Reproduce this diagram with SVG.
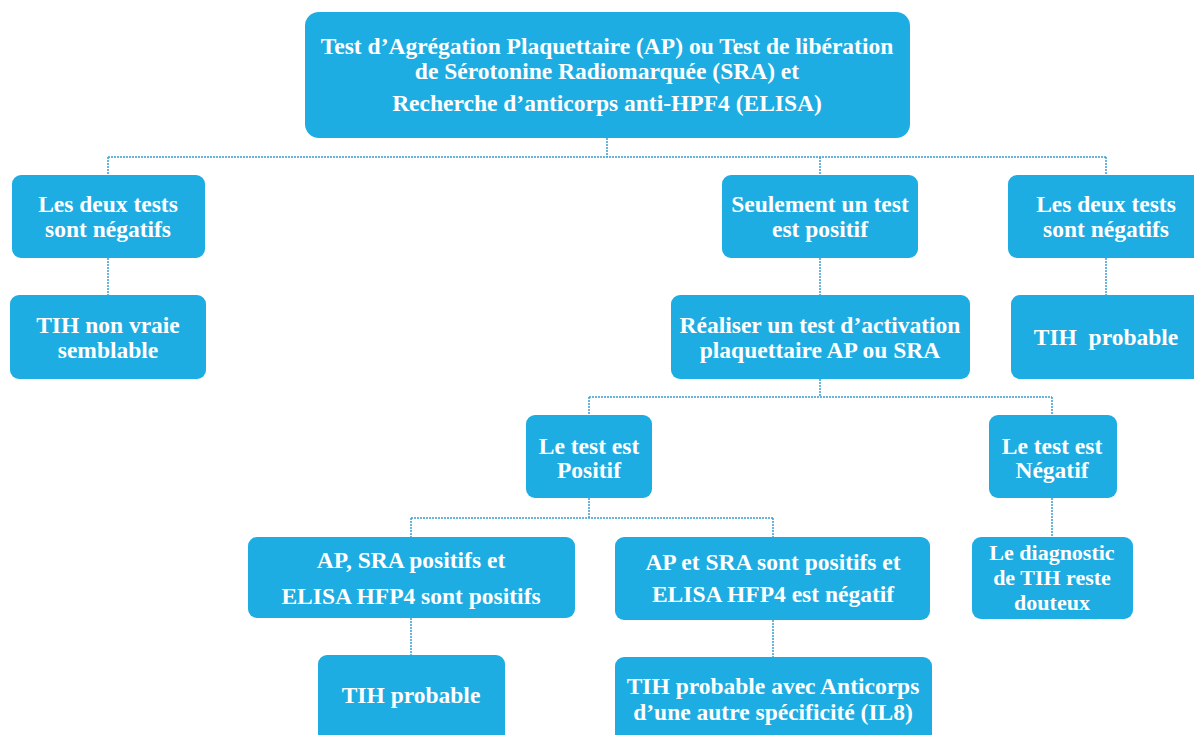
<svg xmlns="http://www.w3.org/2000/svg" width="1194" height="735" viewBox="0 0 1194 735">
<style>
.box{fill:#1DADE3;}
.t{font-family:"Liberation Serif","Times New Roman",serif;font-weight:bold;font-size:23.5px;fill:#ffffff;text-anchor:middle;}
.s{font-size:22px;}
.c{fill:none;stroke:#3A9FD0;stroke-width:1.5;stroke-dasharray:2 1;}
</style>
<rect width="1194" height="735" fill="#ffffff"/>
<g id="connectors">
<path class="c" d="M607 138V157M108 157H1106M108 157V175M820 157V175M1106 157V175"/>
<path class="c" d="M108 258V295M1106 258V295M820 258V295"/>
<path class="c" d="M820 379V397M589 397H1052M589 397V415M1052 397V415"/>
<path class="c" d="M589 498V518M411 518H773M411 518V537M773 518V537M1052 498V537"/>
<path class="c" d="M411 618V655M773 620V657"/>
</g>
<g id="root"><rect class="box" x="305" y="12" width="605" height="126" rx="14"/>
<text class="t" x="607" y="54">Test d’Agrégation Plaquettaire (AP) ou Test de libération</text>
<text class="t" x="607" y="79">de Sérotonine Radiomarquée (SRA) et</text>
<text class="t" x="607" y="111">Recherche d’anticorps anti-HPF4 (ELISA)</text></g>
<g id="n1"><rect class="box" x="12" y="175" width="193" height="83" rx="9"/>
<text class="t" x="108" y="212">Les deux tests</text><text class="t" x="108" y="237">sont négatifs</text></g>
<g id="n2"><rect class="box" x="722" y="175" width="196" height="83" rx="9"/>
<text class="t" x="820" y="212">Seulement un test</text><text class="t" x="820" y="237">est positif</text></g>
<g id="n3"><rect class="box" x="1008" y="175" width="200" height="83" rx="9"/>
<text class="t" x="1106" y="212">Les deux tests</text><text class="t" x="1106" y="237">sont négatifs</text></g>
<g id="n4"><rect class="box" x="10" y="295" width="196" height="84" rx="9"/>
<text class="t" x="108" y="333">TIH non vraie</text><text class="t" x="108" y="358">semblable</text></g>
<g id="n5"><rect class="box" x="671" y="295" width="299" height="84" rx="9"/>
<text class="t" x="820" y="333">Réaliser un test d’activation</text><text class="t" x="820" y="358">plaquettaire AP ou SRA</text></g>
<g id="n6"><rect class="box" x="1011" y="295" width="200" height="84" rx="9"/>
<text class="t" x="1106" y="345" xml:space="preserve">TIH  probable</text></g>
<g id="n7"><rect class="box" x="526" y="415" width="126" height="83" rx="9"/>
<text class="t" x="589" y="454">Le test est</text><text class="t" x="589" y="478">Positif</text></g>
<g id="n8"><rect class="box" x="989" y="415" width="128" height="83" rx="9"/>
<text class="t" x="1052" y="454">Le test est</text><text class="t" x="1052" y="478">Négatif</text></g>
<g id="n9"><rect class="box" x="248" y="537" width="327" height="81" rx="9"/>
<text class="t" x="411" y="568">AP, SRA positifs et</text><text class="t" x="411" y="604">ELISA HFP4 sont positifs</text></g>
<g id="n10"><rect class="box" x="615" y="537" width="315" height="83" rx="9"/>
<text class="t" x="773" y="570">AP et SRA sont positifs et</text><text class="t" x="773" y="602">ELISA HFP4 est négatif</text></g>
<g id="n11"><rect class="box" x="972" y="537" width="161" height="82" rx="9"/>
<text class="t s" x="1052" y="560">Le diagnostic</text><text class="t s" x="1052" y="585">de TIH reste</text><text class="t s" x="1052" y="610">douteux</text></g>
<g id="n12"><rect class="box" x="318" y="655" width="187" height="95" rx="9"/>
<text class="t" x="411" y="703">TIH probable</text></g>
<g id="n13"><rect class="box" x="615" y="657" width="317" height="93" rx="9"/>
<text class="t" x="773" y="694">TIH probable avec Anticorps</text><text class="t" x="773" y="720">d’une autre spécificité (IL8)</text></g>
</svg>
